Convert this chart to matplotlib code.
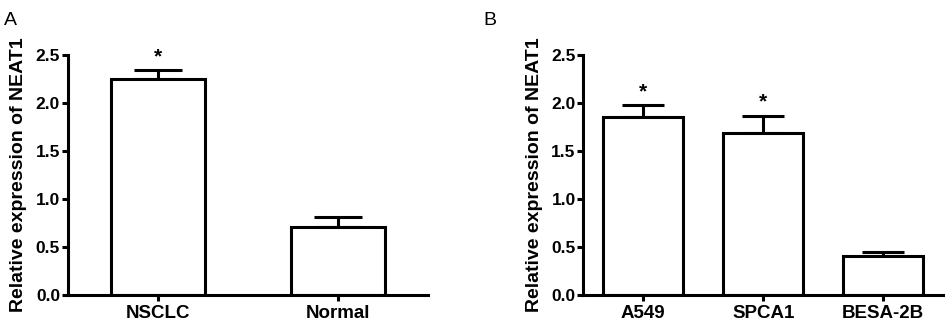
import matplotlib
matplotlib.use("Agg")
import matplotlib.pyplot as plt

plt.rcParams['font.family'] = ['Liberation Sans', 'DejaVu Sans']

a_categories = ["NSCLC", "Normal"]
a_values = [2.25, 0.71]
a_errors = [0.09, 0.10]
a_stars = ["*", ""]

b_categories = ["A549", "SPCA1", "BESA-2B"]
b_values = [1.85, 1.69, 0.41]
b_errors = [0.13, 0.18, 0.04]
b_stars = ["*", "*", ""]

yticks = [0.0, 0.5, 1.0, 1.5, 2.0, 2.5]
ylabel = "Relative expression of NEAT1"

fig = plt.figure(figsize=(9.51, 3.26), dpi=100)
axA = fig.add_axes([0.0712, 0.095, 0.3788, 0.736])
axB = fig.add_axes([0.6134, 0.095, 0.3782, 0.736])

LW = 2.2

def draw(ax, cats, vals, errs, stars, width, capsize):
    x = list(range(len(cats)))
    ax.bar(x, vals, width=width, color='white', edgecolor='black', linewidth=LW, zorder=2)
    ax.errorbar(x, vals, yerr=[[0]*len(vals), errs], fmt='none', ecolor='black',
                elinewidth=LW, capsize=capsize, capthick=LW, zorder=1)
    for xi, v, e, s in zip(x, vals, errs, stars):
        if s:
            ax.text(xi, v + e + 0.04, s, ha='center', va='bottom', fontsize=15, fontweight='bold')
    ax.set_xlim(-0.5, len(cats) - 0.5)
    ax.set_ylim(0, 2.5)
    ax.set_yticks(yticks)
    ax.set_yticklabels([f"{t:.1f}" for t in yticks], fontsize=12.5, fontweight='bold')
    ax.set_xticks(x)
    ax.set_xticklabels(cats, fontsize=13.5, fontweight='bold')
    for s in ['top', 'right']:
        ax.spines[s].set_visible(False)
    for s in ['left', 'bottom']:
        ax.spines[s].set_linewidth(LW)
    ax.tick_params(axis='both', width=LW, length=4, direction='out')
    ax.tick_params(axis='y', pad=1.5)
    ax.tick_params(axis='x', pad=3)
    ax.set_ylabel(ylabel, fontsize=14, fontweight='bold', labelpad=6)

draw(axA, a_categories, a_values, a_errors, a_stars, 0.52, 17)
draw(axB, b_categories, b_values, b_errors, b_stars, 0.67, 15)

fig.text(0.004, 0.923, "A", fontsize=14)
fig.text(0.508, 0.923, "B", fontsize=14)

fig.savefig("out.png", dpi=100)
